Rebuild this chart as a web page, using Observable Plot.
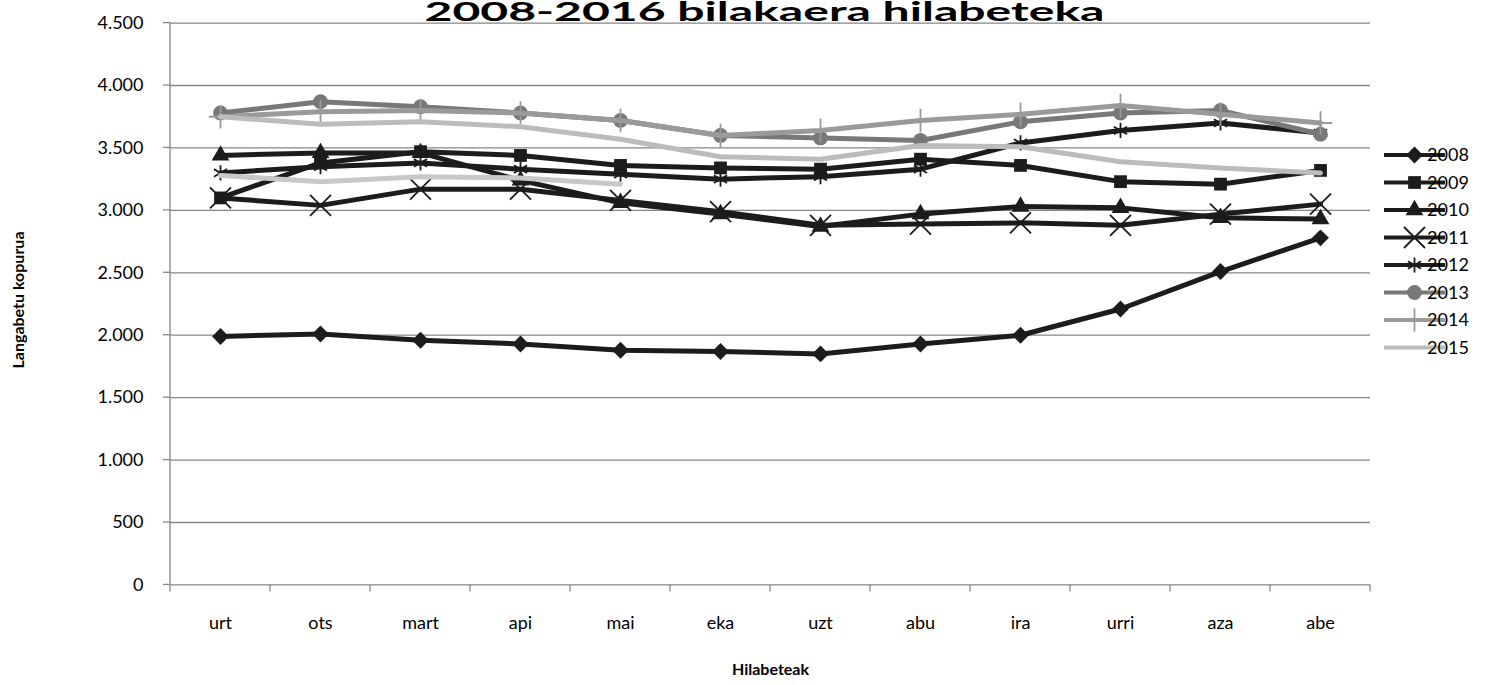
<!DOCTYPE html>
<html>
<head>
<meta charset="utf-8">
<script src="https://cdn.jsdelivr.net/npm/d3@7"></script>
<script src="https://cdn.jsdelivr.net/npm/@observablehq/plot@0.6"></script>
<style>
  html, body { margin: 0; padding: 0; background: #fff; }
  svg { display: block; }
</style>
</head>
<body>
<div id="chart"></div>
<script>
// ---- Texts ----
const title = "2008-2016 bilakaera hilabeteka";
const xTitle = "Hilabeteak";
const yTitle = "Langabetu kopurua";

// ---- Categories & ticks ----
const months = ["urt", "ots", "mart", "api", "mai", "eka", "uzt", "abu", "ira", "urri", "aza", "abe"];
const yTicks = [0, 500, 1000, 1500, 2000, 2500, 3000, 3500, 4000, 4500];
const years = ["2008", "2009", "2010", "2011", "2012", "2013", "2014", "2015", "2016"];
const legendYears = ["2008", "2009", "2010", "2011", "2012", "2013", "2014", "2015"];

// ---- Series values ----
const v2008 = [1990, 2010, 1960, 1930, 1880, 1870, 1850, 1930, 2000, 2210, 2510, 2780];
const v2009 = [3100, 3380, 3470, 3440, 3360, 3340, 3330, 3410, 3360, 3230, 3210, 3320];
const v2010 = [3440, 3460, 3460, 3240, 3060, 2970, 2870, 2970, 3030, 3020, 2940, 2930];
const v2011 = [3100, 3040, 3170, 3170, 3080, 2990, 2880, 2890, 2900, 2880, 2970, 3050];
const v2012 = [3300, 3350, 3380, 3330, 3290, 3250, 3270, 3330, 3540, 3640, 3700, 3620];
const v2013 = [3780, 3870, 3830, 3780, 3720, 3600, 3580, 3560, 3710, 3780, 3800, 3610];
const v2014 = [3750, 3790, 3800, 3780, 3720, 3600, 3640, 3720, 3770, 3840, 3770, 3700];
const v2015 = [3750, 3690, 3710, 3670, 3570, 3430, 3410, 3520, 3510, 3390, 3340, 3300];
const v2016 = [3280, 3230, 3270, 3260, 3210];
const seriesValues = [v2008, v2009, v2010, v2011, v2012, v2013, v2014, v2015, v2016];

// ---- Styles per series ----
const colors  = ["#1c1c1c", "#1c1c1c", "#1c1c1c", "#1c1c1c", "#1c1c1c", "#787878", "#9a9a9a", "#bcbcbc", "#c8c8c8"];
const symbols = ["diamond2", "square", "triangle", "times", "asterisk", "circle", "plus", null, null];
const radii   = [7.6, 7.2, 6.6, 9.6, 7.2, 7.4, 7.6, 0, 0];
const filled  = { diamond2: true, square: true, triangle: true, circle: true, times: false, asterisk: false, plus: false };
const d3Sym   = { diamond2: d3.symbolDiamond2, square: d3.symbolSquare, triangle: d3.symbolTriangle, circle: d3.symbolCircle, times: d3.symbolTimes, asterisk: d3.symbolAsterisk, plus: d3.symbolPlus };

const fmt = d => d3.format(",")(d).replace(/,/g, ".");

const rows = years.flatMap((yr, i) => seriesValues[i].map((v, j) => ({ year: yr, month: months[j], value: v })));

const W = 1501, H = 685;
const mL = 170, mR = 131, mT = 22.6, mB = 100.6;
const axisGray = "#868686";
const FONT = "Lato, 'Open Sans', sans-serif";

const seriesMarks = years.flatMap((yr, i) => {
  const data = rows.filter(r => r.year === yr);
  const marks = [Plot.line(data, { x: "month", y: "value", stroke: colors[i], strokeWidth: 5, strokeLinejoin: "round" })];
  const s = symbols[i];
  if (s) {
    marks.push(Plot.dot(data, {
      x: "month", y: "value", symbol: s, r: radii[i],
      fill: filled[s] ? colors[i] : "none",
      stroke: filled[s] ? "none" : colors[i],
      strokeWidth: filled[s] ? 0 : 1.8
    }));
  }
  return marks;
});

const chart = Plot.plot({
  width: W, height: H,
  marginLeft: mL, marginRight: mR, marginTop: mT, marginBottom: mB,
  style: { fontFamily: FONT, background: "#fff", color: "#000" },
  x: { type: "point", domain: months, padding: 0.5, axis: null },
  y: { domain: [0, 4500], axis: null },
  marks: [
    // gridlines & bottom axis line
    Plot.ruleY(yTicks, { y: d => d, stroke: axisGray, strokeWidth: 1.3 }),
    // tick labels
    Plot.text(yTicks, { y: d => d, frameAnchor: "left", textAnchor: "end", dx: -27, text: fmt, fontSize: 18 }),
    Plot.text(months, { x: d => d, frameAnchor: "bottom", dy: 44, text: d => d, fontSize: 18 }),
    // axis titles
    Plot.text([xTitle], { frameAnchor: "bottom", dy: 90, text: d => d, fontSize: 16, fontWeight: "bold" }),
    Plot.text([yTitle], { frameAnchor: "left", textAnchor: "middle", dx: -152, dy: -4, rotate: -90, text: d => d, fontSize: 16, fontWeight: "bold" }),
    // chart title
    Plot.text([title], { frameAnchor: "top", lineAnchor: "top", dy: -20.8, dx: -6, text: d => d, fontSize: 27, fontWeight: "bold" }),
    // series
    ...seriesMarks
  ]
});

const svg = d3.select(chart);
const xs = chart.scale("x"), ys = chart.scale("y");
const step = xs.apply(months[1]) - xs.apply(months[0]);
const x0 = xs.apply(months[0]) - step / 2;
const y0 = ys.apply(0);

// stretch the wide title like the reference
svg.selectAll("text").filter(function () { return this.textContent === title; })
  .attr("textLength", 680).attr("lengthAdjust", "spacingAndGlyphs");

// axis line and tick marks (positioned with Plot's scales)
const ax = svg.append("g").attr("stroke", axisGray).attr("stroke-width", 1.3);
ax.append("line").attr("x1", x0).attr("x2", x0).attr("y1", ys.apply(4500)).attr("y2", y0);
yTicks.forEach(t => {
  ax.append("line").attr("x1", x0 - 7).attr("x2", x0).attr("y1", ys.apply(t)).attr("y2", ys.apply(t));
});
d3.range(months.length + 1).forEach(k => {
  const xx = x0 + k * step;
  ax.append("line").attr("x1", xx).attr("x2", xx).attr("y1", y0).attr("y2", y0 + 7);
});

// ---- Legend ----
const lg = svg.append("g").attr("font-family", FONT).attr("font-size", 18);
legendYears.forEach((yr, k) => {
  const i = years.indexOf(yr);
  const y = 155 + k * 27.5;
  const g = lg.append("g").attr("transform", `translate(0,${y})`);
  g.append("line").attr("x1", 1384).attr("x2", 1445).attr("y1", 0).attr("y2", 0)
    .attr("stroke", colors[i]).attr("stroke-width", 4);
  const s = symbols[i];
  if (s) {
    g.append("path")
      .attr("transform", "translate(1414.5,0)")
      .attr("d", d3.symbol().type(d3Sym[s]).size(Math.PI * radii[i] * radii[i])())
      .attr("fill", filled[s] ? colors[i] : "none")
      .attr("stroke", filled[s] ? "none" : colors[i])
      .attr("stroke-width", filled[s] ? 0 : 1.8);
  }
  g.append("text").attr("x", 1448).attr("y", 0).attr("dy", "0.35em").attr("fill", "#000").text(yr);
});

document.getElementById("chart").appendChild(chart);
</script>
</body>
</html>
